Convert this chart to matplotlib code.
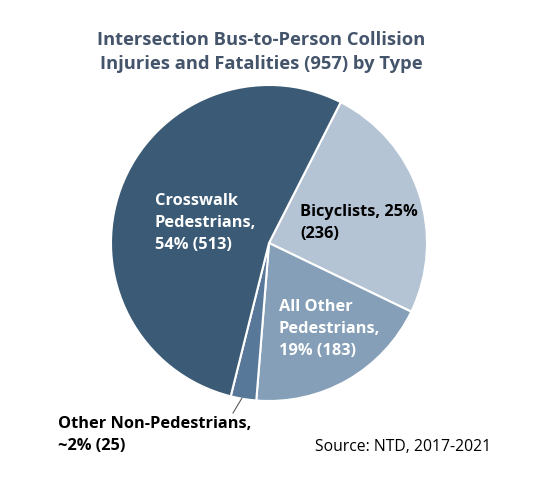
import matplotlib.pyplot as plt
import numpy as np

# data
categories = ["Bicyclists", "All Other Pedestrians", "Other Non-Pedestrians", "Crosswalk Pedestrians"]
counts = [236, 183, 25, 513]
label_texts = ["Bicyclists, 25%\n(236)",
               "All Other\nPedestrians,\n19% (183)",
               "Other Non-Pedestrians,\n~2% (25)",
               "Crosswalk\nPedestrians,\n54% (513)"]
colors = ["#B4C4D4", "#849FB7", "#58789A", "#3A5A75"]

W, H = 539, 487
FONT = ["Open Sans", "DejaVu Sans"]

fig = plt.figure(figsize=(W / 100, H / 100), dpi=100)
fig.patch.set_facecolor("white")

def px(x, y):
    return x / W, 1 - y / H

# pie axes: centre (269, 243), radius 158 px
cx, cy, r = 269, 243, 158
ax = fig.add_axes([(cx - r) / W, (H - cy - r) / H, 2 * r / W, 2 * r / H])
ax.pie(counts, colors=colors, startangle=63, counterclock=False, radius=1,
       wedgeprops=dict(edgecolor="white", linewidth=1.5))
ax.set_xlim(-1, 1)
ax.set_ylim(-1, 1)
ax.set_aspect("equal")
ax.axis("off")

# title
fig.text(*px(261, 52), "Intersection Bus-to-Person Collision\nInjuries and Fatalities (957) by Type",
         ha="center", va="center", fontsize=13.2, fontweight="bold", color="#44546A",
         family=FONT, linespacing=1.38)

# slice labels
lab_kw = dict(fontsize=11.8, fontweight="bold", family=FONT, linespacing=1.48, ha="left", va="center")
fig.text(*px(155, 223), label_texts[3], color="white", **lab_kw)
fig.text(*px(300, 223), label_texts[0], color="black", **lab_kw)
fig.text(*px(279, 329), label_texts[1], color="white", **lab_kw)
fig.text(*px(58, 435), label_texts[2], color="black", **lab_kw)

# leader line for small slice
fig.add_artist(plt.Line2D([242 / W, 233 / W], [1 - 398 / H, 1 - 413 / H],
                          color="#595959", linewidth=0.8))

fig.text(*px(315, 447), "Source: NTD, 2017-2021", fontsize=11.3, family=FONT,
         color="black", ha="left", va="center")

fig.savefig("out.png", dpi=100)
